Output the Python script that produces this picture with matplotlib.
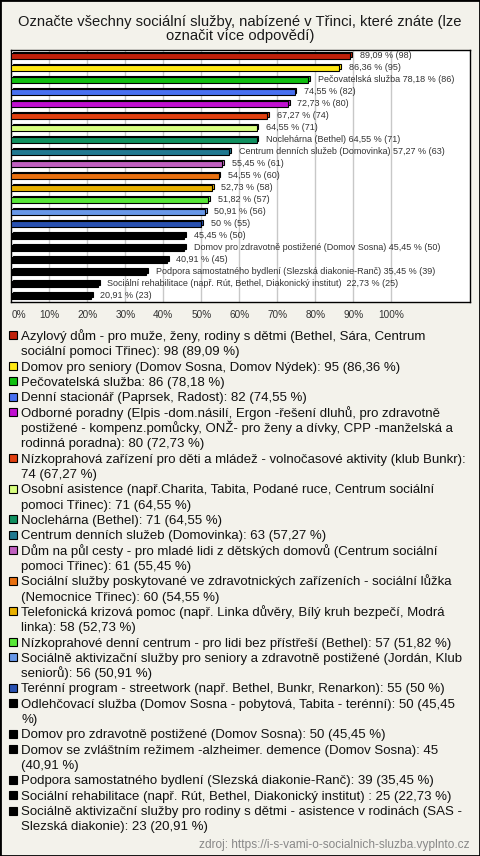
import matplotlib
matplotlib.use('Agg')
import matplotlib.pyplot as plt
from matplotlib.patches import Rectangle

plt.rcParams['font.family'] = ['Liberation Sans', 'DejaVu Sans']

title = "Označte všechny sociální služby, nabízené v Třinci, které znáte (lze\noznačit více odpovědí)"
source = "zdroj: https://i-s-vami-o-socialnich-sluzba.vyplnto.cz"

names = [
    "Azylový dům - pro muže, ženy, rodiny s dětmi (Bethel, Sára, Centrum sociální pomoci Třinec)",
    "Domov pro seniory (Domov Sosna, Domov Nýdek)",
    "Pečovatelská služba",
    "Denní stacionář (Paprsek, Radost)",
    "Odborné poradny (Elpis -dom.násilí, Ergon -řešení dluhů, pro zdravotně postižené - kompenz.pomůcky, ONŽ- pro ženy a dívky, CPP -manželská a rodinná poradna)",
    "Nízkoprahová zařízení pro děti a mládež - volnočasové aktivity (klub Bunkr)",
    "Osobní asistence (např.Charita, Tabita, Podané ruce, Centrum sociální pomoci Třinec)",
    "Noclehárna (Bethel)",
    "Centrum denních služeb (Domovinka)",
    "Dům na půl cesty - pro mladé lidi z dětských domovů (Centrum sociální pomoci Třinec)",
    "Sociální služby poskytované ve zdravotnických zařízeních - sociální lůžka (Nemocnice Třinec)",
    "Telefonická krizová pomoc (např. Linka důvěry, Bílý kruh bezpečí, Modrá linka)",
    "Nízkoprahové denní centrum - pro lidi bez přístřeší (Bethel)",
    "Sociálně aktivizační služby pro seniory a zdravotně postižené (Jordán, Klub seniorů)",
    "Terénní program - streetwork (např. Bethel, Bunkr, Renarkon)",
    "Odlehčovací služba (Domov Sosna - pobytová, Tabita - terénní)",
    "Domov pro zdravotně postižené (Domov Sosna)",
    "Domov se zvláštním režimem -alzheimer. demence (Domov Sosna)",
    "Podpora samostatného bydlení (Slezská diakonie-Ranč)",
    "Sociální rehabilitace (např. Rút, Bethel, Diakonický institut) ",
    "Sociálně aktivizační služby pro rodiny s dětmi - asistence v rodinách (SAS - Slezská diakonie)",
]
counts = [98, 95, 86, 82, 80, 74, 71, 71, 63, 61, 60, 58, 57, 56, 55, 50, 50, 45, 39, 25, 23]
percents = [89.09, 86.36, 78.18, 74.55, 72.73, 67.27, 64.55, 64.55, 57.27, 55.45, 54.55,
            52.73, 51.82, 50.91, 50.0, 45.45, 45.45, 40.91, 35.45, 22.73, 20.91]
name_on_bar = [False, False, True, False, False, False, False, True, True, False, False,
               False, False, False, False, False, True, False, True, True, False]
colors = ["#c0200a", "#ffe812", "#10c010", "#4870f0", "#c010d0", "#e04010", "#d8ff80",
          "#109060", "#207890", "#c060c0", "#e87010", "#e8b000", "#58e838", "#6898e8",
          "#2850b0", "#000000", "#000000", "#000000", "#000000", "#000000", "#000000"]
tick_values = [0, 10, 20, 30, 40, 50, 60, 70, 80, 90, 100]
tick_labels = ["0%", "10%", "20%", "30%", "40%", "50%", "60%", "70%", "80%", "90%", "100%"]

# legend line wrapping (number of words on each line before the last one)
legend_breaks = [[12], [], [], [], [9, 11], [11], [8], [], [], [13], [9], [10], [], [10],
                 [], [11], [], [9], [], [], [13]]


def fmt(v):
    s = f"{v:.2f}".replace('.', ',')
    if s.endswith(',00'):
        s = s[:-3]
    return s


W, H = 480, 856
BG = "#f3f2eb"
fig = plt.figure(figsize=(W / 100, H / 100), dpi=100, facecolor=BG)

# title
fig.text(0.5, 1 - 28.8 / H, title, ha='center', va='center', fontsize=10.6,
         color='#1a1a1a', linespacing=1.05)

# axes
ax_left, ax_right, ax_top, ax_bot = 10.5, 470, 50, 302
ax = fig.add_axes([ax_left / W, 1 - ax_bot / H, (ax_right - ax_left) / W, (ax_bot - ax_top) / H])
ax.set_facecolor('white')
px_per_pct = 3.8
xmin = -(11.3 - ax_left) / px_per_pct
xmax = xmin + (ax_right - ax_left) / px_per_pct
ax.set_xlim(xmin, xmax)
n = len(percents)
ax.set_ylim(n - 0.5, -0.5)

for v in tick_values[1:]:
    ax.axvline(v, color='#c8c8c8', lw=1, zorder=0)

ys = list(range(n))
bh = 0.42
# 3D back face
ax.barh([y - 0.16 for y in ys], percents, left=0.5, height=bh, color=colors,
        edgecolor='black', linewidth=0.8, zorder=2)
# front face
ax.barh(ys, percents, height=bh, color=colors, edgecolor='black', linewidth=0.8, zorder=3)

for i in range(n):
    lbl = f"{fmt(percents[i])} % ({counts[i]})"
    if name_on_bar[i]:
        lbl = f"{names[i]} {lbl}"
    ax.annotate(lbl, xy=(percents[i], i), xytext=(7.0, 0), textcoords='offset points',
                va='center', ha='left', fontsize=6.5, color='#333333', zorder=4)

ax.set_yticks([])
ax.set_xticks(tick_values)
ax.set_xticklabels(tick_labels, fontsize=7.2, color='#333333')
ax.tick_params(axis='x', length=0, pad=6)
ax.get_xticklabels()[0].set_ha('left')
for s in ax.spines.values():
    s.set_color('black')
    s.set_linewidth(1)

# legend (manual, wrapped as in the reference)
LFS = 9.5
text_x = 21


def wrap(s, breaks):
    words = s.split(' ')
    lines = []
    pos = 0
    for b in breaks:
        lines.append(' '.join(words[pos:pos + b]))
        pos += b
    lines.append(' '.join(words[pos:]))
    return lines


y0 = 335.3
pitch = 15.33
k = 0
for i in range(n):
    label = f"{names[i]}: {counts[i]} ({fmt(percents[i])} %)"
    lines = wrap(label, legend_breaks[i])
    yc = y0 + pitch * k
    fig.patches.append(Rectangle((9 / W, 1 - (yc + 4) / H), 8 / W, 8 / H,
                                 transform=fig.transFigure, facecolor=colors[i],
                                 edgecolor='black', linewidth=0.8))
    for ln in lines:
        yc = y0 + pitch * k
        fig.text(text_x / W, 1 - (yc + 4.6) / H, ln, fontsize=LFS, color='#111111',
                 ha='left', va='baseline')
        k += 1

fig.text(470 / W, 1 - 845 / H, source, ha='right', va='center', fontsize=8.6, color='#888888')

fig.patches.append(Rectangle((0, 0), 1, 1, transform=fig.transFigure, fill=False,
                             edgecolor='black', linewidth=2))

fig.savefig('out.png', dpi=100, facecolor=BG)
